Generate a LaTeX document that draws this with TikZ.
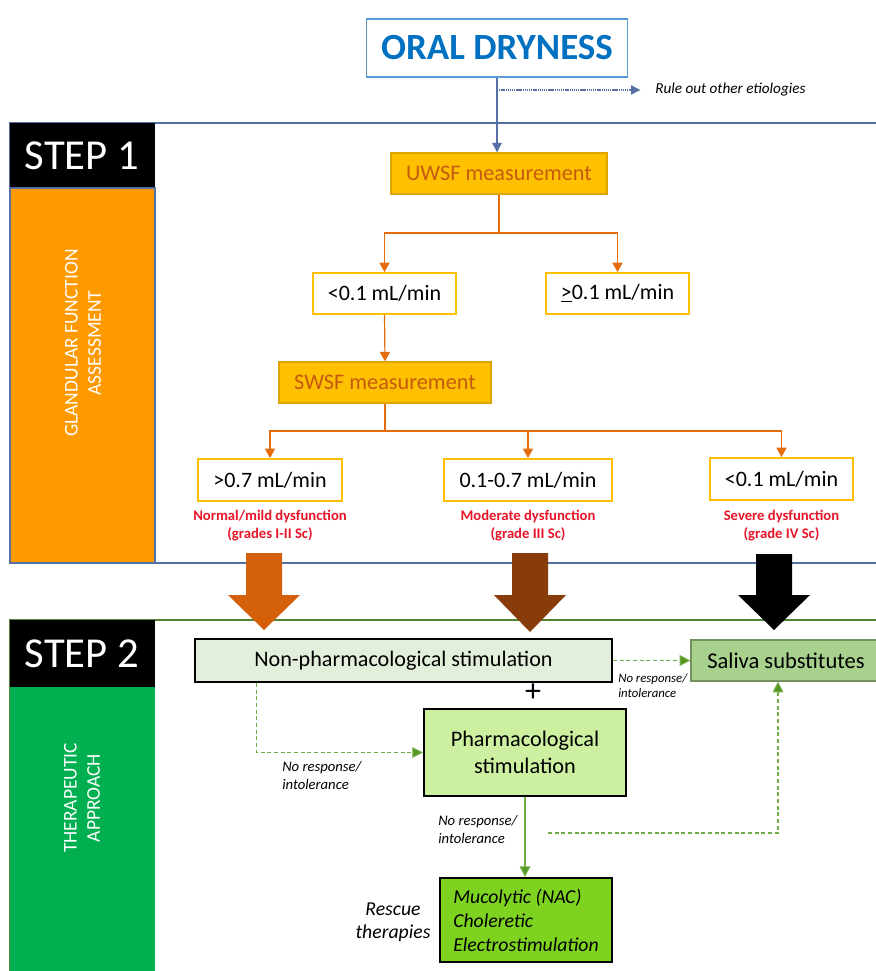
\documentclass[tikz,border=0pt]{standalone}
\usepackage{fontspec}
\setmainfont{Carlito}
\usetikzlibrary{arrows.meta,positioning}
\definecolor{drytext}{RGB}{0,112,192}
\definecolor{dryline}{RGB}{91,155,213}
\definecolor{frameone}{RGB}{84,112,165}
\definecolor{frametwo}{RGB}{84,130,53}
\definecolor{sideor}{RGB}{255,153,0}
\definecolor{sidegr}{RGB}{0,176,80}
\definecolor{gold}{RGB}{255,192,0}
\definecolor{goldline}{RGB}{222,165,0}
\definecolor{rust}{RGB}{197,90,17}
\definecolor{orline}{RGB}{228,108,10}
\definecolor{gradered}{RGB}{232,20,40}
\definecolor{bigor}{RGB}{212,96,12}
\definecolor{bigbr}{RGB}{135,60,10}
\definecolor{palegr}{RGB}{226,239,218}
\definecolor{lightgr}{RGB}{204,240,160}
\definecolor{midgr}{RGB}{169,209,142}
\definecolor{salline}{RGB}{115,145,95}
\definecolor{brightgr}{RGB}{126,211,33}
\definecolor{dashgr}{RGB}{112,173,71}
\definecolor{tipgr}{RGB}{84,150,30}
\begin{document}
\begin{tikzpicture}[x=0.75pt,y=-0.75pt,
  measure/.style={draw=goldline,line width=1.1pt,fill=gold,text=rust,inner sep=0pt,
    minimum height=30.75pt,font=\fontsize{16.7}{19}\selectfont},
  value/.style={draw=gold,line width=1.4pt,fill=white,inner sep=0pt,
    minimum height=30.75pt,font=\fontsize{16.5}{19}\selectfont},
  grade/.style={text=gradered,align=center,inner sep=0pt,
    font=\bfseries\fontsize{11}{13.5}\selectfont},
  treat/.style={draw=black,line width=1.5pt,inner sep=0pt,
    font=\fontsize{16.6}{20}\selectfont},
  noresp/.style={align=left,inner sep=0pt,font=\itshape\fontsize{11}{14}\selectfont},
  orarrow/.style={draw=orline,line width=0.9pt,-{Triangle[width=7.5pt,length=7pt]}},
  blarrow/.style={draw=frameone,line width=0.9pt,-{Triangle[width=7pt,length=7pt]}},
  gdash/.style={draw=dashgr,line width=0.8pt,dash pattern=on 3pt off 2pt,
    -{Triangle[width=8pt,length=8pt,fill=tipgr]}},
  steplabel/.style={text=white,inner sep=0pt,font=\fontsize{32}{34}\selectfont},
  sidelabel/.style={text=white,align=center,rotate=90,inner sep=0pt,
    font=\fontsize{14.6}{17.5}\selectfont}]
\useasboundingbox (0,0) rectangle (875,971);
%\draw[help lines,step=50] (0,0) grid (875,971);

% step frames
\draw[frameone,line width=1.5pt] (10,123) rectangle (890,563);
\draw[frametwo,line width=1.2pt] (10,620) rectangle (890,990);
\fill[black] (10,123) rectangle (155,188);
\filldraw[fill=sideor,draw=frameone,line width=1pt] (10,188) rectangle (155,563);
\fill[black] (10,620) rectangle (155,687);
\fill[sidegr] (10,687) rectangle (155,990);
\node[steplabel] (step1) at (82,156) {STEP 1};
\node[steplabel] (step2) at (82,654) {STEP 2};
\node[sidelabel] (glands) at (83,343) {GLANDULAR FUNCTION\\ASSESSMENT};
\node[sidelabel] (therapy) at (82,798) {THERAPEUTIC\\APPROACH};

% step 1
\node[draw=dryline,line width=1.1pt,fill=white,text=drytext,minimum width=195.75pt,
  minimum height=43.5pt,font=\bfseries\fontsize{27.7}{30}\selectfont] (dry) at (497,48) {ORAL DRYNESS};
\node[anchor=west,inner sep=0pt,font=\itshape\fontsize{11.4}{13}\selectfont] (rule) at (655,90) {Rule out other etiologies};
\node[measure,minimum width=162pt] (uwsf) at (499,173.5) {UWSF measurement};
\node[value,minimum width=107.25pt] (lowA) at (384.5,293.5) {<0.1 mL/min};
\node[value,minimum width=107.25pt] (highA) at (617.5,293.5) {\underline{>}0.1 mL/min};
\node[measure,minimum width=159pt] (swsf) at (385,382.5) {SWSF measurement};
\node[value,minimum width=108pt,minimum height=31.5pt] (g1) at (270,480) {>0.7 mL/min};
\node[value,minimum width=126pt,minimum height=31.5pt] (g2) at (528,480) {0.1-0.7 mL/min};
\node[value,minimum width=107.25pt,minimum height=31.5pt] (g3) at (781.5,479) {<0.1 mL/min};
\node[grade,below=6pt of g1] (g1txt) {Normal/mild dysfunction\\(grades I-II Sc)};
\node[grade,below=6pt of g2] (g2txt) {Moderate dysfunction\\(grade III Sc)};
\node[grade,below=6.5pt of g3] (g3txt) {Severe dysfunction\\(grade IV Sc)};

\draw[blarrow] (dry.south) -- (dry.south |- uwsf.north);
\draw[frameone,line width=0.8pt,dash pattern=on 1pt off 0.6pt,-{Triangle[width=7pt,length=7pt]}]
  (dry.south |- rule.west) -- ([xshift=-11pt]rule.west);
\coordinate (split1) at (499,233);
\coordinate (split2) at (385,431);
\draw[orline,line width=0.9pt] (uwsf.south) -- (split1);
\draw[orarrow] (split1) -| (lowA.north);
\draw[orarrow] (split1) -| (highA.north);
\draw[orarrow] (lowA.south) -- (swsf.north);
\draw[orline,line width=0.9pt] (swsf.south) -- (split2);
\draw[orarrow] (split2) -| (g1.north);
\draw[orarrow] (split2) -| (g2.north);
\draw[orarrow] (split2) -| (g3.north);

% big arrows
\fill[bigor] (246,553) -- (282,553) -- (282,595) -- (300,595) -- (264,630) -- (228,595) -- (246,595) -- cycle;
\fill[bigbr] (512,553) -- (548,553) -- (548,595) -- (566,595) -- (530,632) -- (494,595) -- (512,595) -- cycle;
\fill[black] (756,554) -- (792,554) -- (792,595) -- (810,595) -- (774,630) -- (738,595) -- (756,595) -- cycle;

% step 2
\node[treat,fill=palegr,minimum width=312.75pt,minimum height=32.25pt] (nonph) at (403.5,660.5) {Non-pharmacological stimulation};
\node[inner sep=0pt,font=\fontsize{24}{24}\selectfont] (plus) at (533,693) {+};
\node[treat,fill=lightgr,align=center,minimum width=151.5pt,minimum height=65.25pt,
  font=\fontsize{16.7}{20.25}\selectfont] (pharm) at (525,752.5) {Pharmacological\\stimulation};
\node[draw=salline,line width=0.9pt,fill=midgr,inner sep=0pt,minimum width=142.5pt,
  minimum height=30.75pt,font=\fontsize{16.9}{18}\selectfont] (saliva) at (786,660.5) {Saliva substitutes};
\node[treat,fill=brightgr,align=left,minimum width=129pt,minimum height=63pt,
  font=\itshape\fontsize{14.8}{18}\selectfont] (muco) at (526,920) {Mucolytic (NAC)\\Choleretic\\Electrostimulation};
\node[align=center,inner sep=0pt,font=\itshape\fontsize{14.8}{17.25}\selectfont] (rescue) at (393,922) {Rescue\\therapies};

\draw[gdash] ([xshift=-110pt]nonph.south) |- (pharm.west);
\node[noresp,anchor=north west] (nr1) at (282,761) {No response/\\intolerance};
\draw[gdash] (nonph.east) -- (saliva.west);
\node[noresp,anchor=north west,font=\itshape\fontsize{9.6}{11.5}\selectfont] (nr2) at (618,673) {No response/\\intolerance};
\draw[dashgr,line width=0.9pt,-{Triangle[width=8pt,length=8pt,fill=tipgr]}] (pharm.south) -- (pharm.south |- muco.north);
\node[noresp,anchor=north west] (nr3) at (438,815) {No response/\\intolerance};
\coordinate (back) at (548,833);
\draw[gdash] (back) -| ([xshift=-6pt]saliva.south);
\end{tikzpicture}
\end{document}
